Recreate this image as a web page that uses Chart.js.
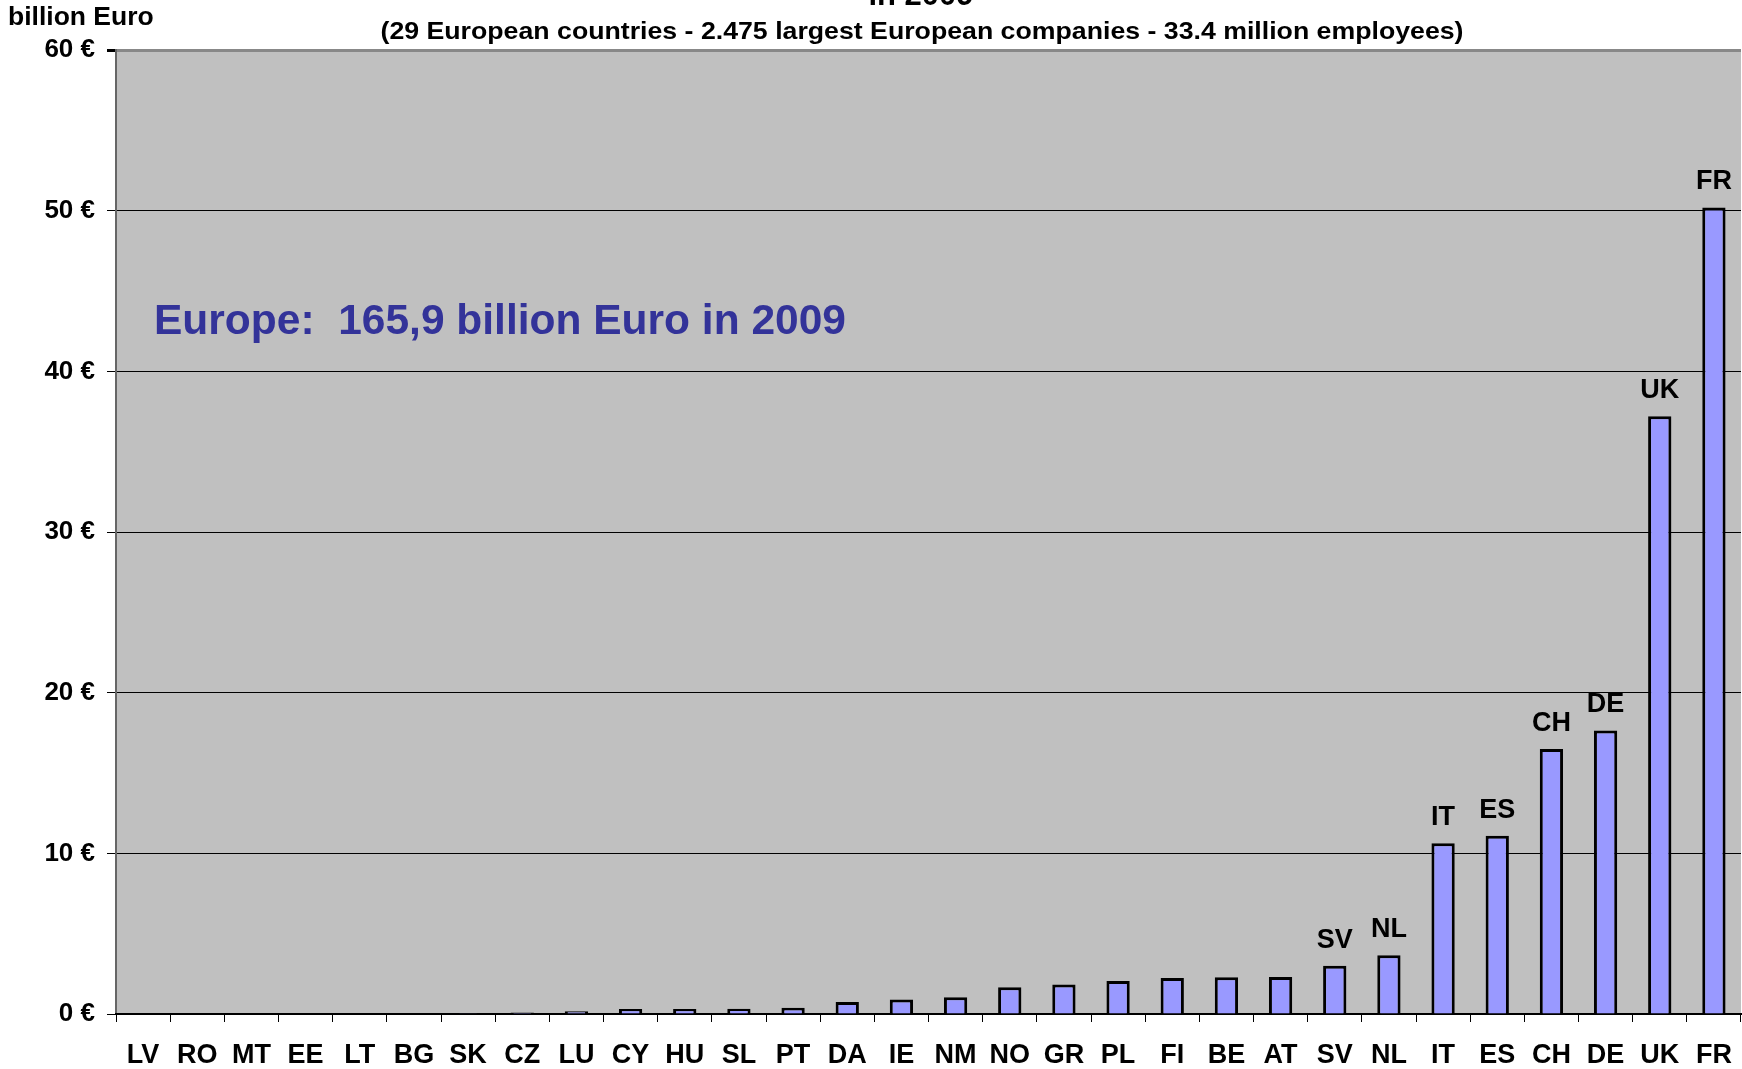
<!DOCTYPE html>
<html>
<head>
<meta charset="utf-8">
<script src="https://cdn.jsdelivr.net/npm/chart.js@4"></script>
<style>
  html, body { margin: 0; padding: 0; background: #fff; }
  #wrap { width: 1742px; height: 1069px; }
</style>
</head>
<body>
<div id="wrap"><canvas id="chart" width="1742" height="1069"></canvas></div>
<script>
const countries = ['LV', 'RO', 'MT', 'EE', 'LT', 'BG', 'SK', 'CZ', 'LU', 'CY',
    'HU', 'SL', 'PT', 'DA', 'IE', 'NM', 'NO', 'GR', 'PL', 'FI',
    'BE', 'AT', 'SV', 'NL', 'IT', 'ES', 'CH', 'DE', 'UK', 'FR'];
const amounts = [0, 0, 0, 0, 0, 0, 0.05, 0.1, 0.17, 0.31,
    0.31, 0.33, 0.39, 0.75, 0.91, 1.04, 1.66, 1.83, 2.05, 2.24,
    2.28, 2.3, 3.0, 3.65, 10.63, 11.1, 16.5, 17.65, 37.2, 50.2];
const labelFrom = 22; // bars from SV onwards carry their code on top
const yTicks = [0, 10, 20, 30, 40, 50, 60];

const titleLine = 'in 2009';
const subTitle = '(29 European countries - 2.475 largest European companies - 33.4 million employees)';
const unitText = 'billion Euro';
const noteText = 'Europe:  165,9 billion Euro in 2009';

const fontFam = '"Liberation Sans", Arial, sans-serif';

const extras = {
    id: 'extras',
    beforeDraw(chart) {
        const a = chart.chartArea;
        const ctx = chart.ctx;
        ctx.save();
        ctx.fillStyle = '#C0C0C0';
        ctx.fillRect(a.left, a.top, a.right - a.left, a.bottom - a.top);
        ctx.restore();
    },
    afterDraw(chart) {
        const ctx = chart.ctx;
        ctx.save();
        ctx.fillStyle = '#000';
        ctx.textBaseline = 'alphabetic';

        ctx.textAlign = 'center';
        ctx.font = 'bold 31px ' + fontFam;
        ctx.fillText(titleLine, 921, 5);

        // subtitle is wide in the original, stretch it to the same span
        ctx.font = 'bold 24px ' + fontFam;
        const w = ctx.measureText(subTitle).width;
        ctx.save();
        ctx.translate(922, 39);
        ctx.scale(1083 / w, 1);
        ctx.fillText(subTitle, 0, 0);
        ctx.restore();

        ctx.textAlign = 'left';
        ctx.font = 'bold 26.5px ' + fontFam;
        ctx.fillText(unitText, 8, 25);

        ctx.fillStyle = '#333399';
        ctx.font = 'bold 42.5px ' + fontFam;
        ctx.fillText(noteText, 154, 334);

        // codes above the larger bars
        ctx.fillStyle = '#000';
        ctx.textAlign = 'center';
        ctx.font = 'bold 27px ' + fontFam;
        const meta = chart.getDatasetMeta(0);
        meta.data.forEach((bar, i) => {
            if (i < labelFrom) return;
            ctx.fillText(countries[i], bar.x, bar.y - 18);
        });
        ctx.restore();
    }
};

new Chart(document.getElementById('chart'), {
    type: 'bar',
    data: {
        labels: countries,
        datasets: [{
            data: amounts,
            backgroundColor: '#9999FF',
            borderColor: '#000',
            borderWidth: 3,
            borderSkipped: 'bottom',
            barPercentage: 0.43,
            categoryPercentage: 1
        }]
    },
    options: {
        responsive: false,
        animation: false,
        layout: { padding: { top: 50, right: 1, left: 0, bottom: 0 } },
        plugins: {
            legend: { display: false },
            tooltip: { enabled: false }
        },
        scales: {
            y: {
                min: 0,
                max: 60,
                afterFit(s) { s.width = 116; },
                afterBuildTicks(s) { s.ticks = yTicks.map(v => ({ value: v })); },
                border: { color: '#666', width: 2 },
                grid: {
                    color: c => c.tick && c.tick.value === 60 ? '#888' : '#000',
                    lineWidth: c => c.tick && c.tick.value === 60 ? 3 : 1,
                    tickColor: '#000',
                    tickLength: 9
                },
                ticks: {
                    padding: 12,
                    color: '#000',
                    font: { family: fontFam, size: 26, weight: 'bold' },
                    callback: v => v + ' €'
                }
            },
            x: {
                z: 1,
                afterFit(s) {
                    s.height = 55;
                    s.paddingLeft = 0;
                    s.paddingRight = 0;
                },
                border: { color: '#000', width: 2 },
                grid: {
                    drawOnChartArea: false,
                    drawTicks: true,
                    tickColor: '#000',
                    tickLength: 8,
                    offset: true
                },
                ticks: {
                    padding: 17,
                    autoSkip: false,
                    maxRotation: 0,
                    color: '#000',
                    font: { family: fontFam, size: 27, weight: 'bold' }
                }
            }
        }
    },
    plugins: [extras]
});
</script>
</body>
</html>
